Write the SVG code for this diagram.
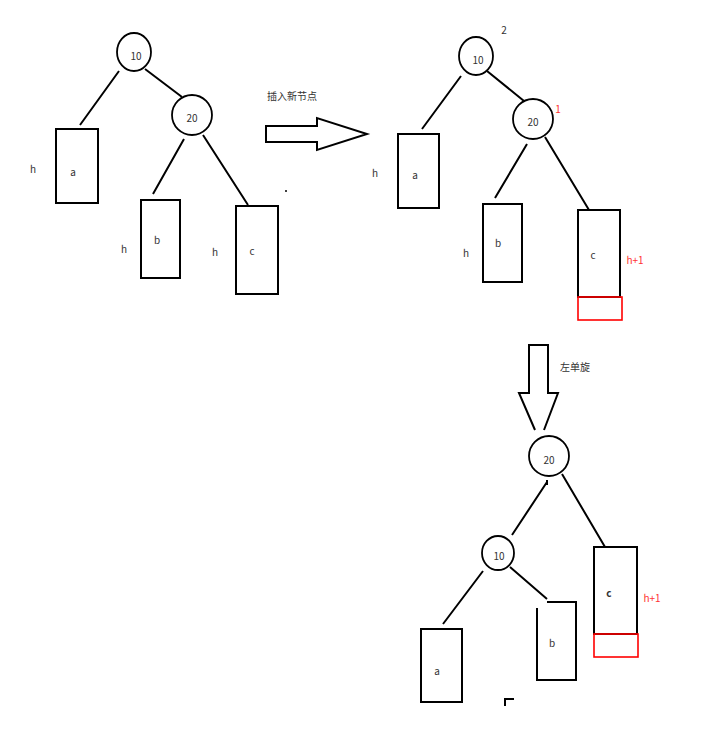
<svg xmlns="http://www.w3.org/2000/svg" width="721" height="735" viewBox="0 0 721 735">
<style>
.s{fill:none;stroke:#000;stroke-width:2}
.r{fill:none;stroke:#ff0000;stroke-width:1.6}
.n{fill:#fff;stroke:#000;stroke-width:1.8}
text{font-family:"Noto Sans CJK SC","Liberation Sans",sans-serif;font-size:10px;fill:#333;text-anchor:middle;dominant-baseline:central}
.red{fill:#ff3333}
</style>
<rect width="721" height="735" fill="#fff"/>
<g id="connectors">
<path class="s" d="M119,71 L80,125 M145,69 L182,97 M184,139 L153,194 M203,135 L248,205"/>
<path class="s" d="M461,76 L422,129 M487,71 L524,101 M527,144 L495,198 M545,137 L589,210"/>
<path class="s" d="M547,482 L512,535 M562,474 L605,547 M483,571 L443,624 M510,567 L547,599"/>
<path class="s" d="M547,480 V485" stroke-width="1"/>
</g>
<g id="arrow-insert">
<polygon class="s" points="266,126 317,126 317,118 367,134 317,150 317,142 266,142"/>
<text x="292" y="95">插入新节点</text>
</g>
<g id="arrow-rotate">
<polyline class="s" points="535,430 519,393 529,393 529,345 548,345 548,393 558,393 544,430"/>
<text x="575" y="366">左单旋</text>
</g>
<g id="t1-n10"><ellipse class="n" cx="134" cy="52" rx="17" ry="19"/><text x="136" y="55">10</text></g>
<g id="t1-n20"><circle class="n" cx="192" cy="115" r="20"/><text x="192" y="117">20</text></g>
<g id="t1-a"><rect class="s" x="56" y="129" width="42" height="74"/><text x="73" y="171">a</text><text x="33" y="168">h</text></g>
<g id="t1-b"><rect class="s" x="141" y="200" width="39" height="78"/><text x="157" y="239">b</text><text x="124" y="248">h</text></g>
<g id="t1-c"><rect class="s" x="236" y="206" width="42" height="88"/><text x="252" y="250">c</text><text x="215" y="251">h</text></g>
<circle cx="286" cy="191" r="1" fill="#000"/>
<g id="t2-n10"><ellipse class="n" cx="476" cy="56" rx="17" ry="19"/><text x="478" y="59">10</text><text x="504" y="29">2</text></g>
<g id="t2-n20"><circle class="n" cx="533" cy="119" r="20"/><text x="533" y="121">20</text><text class="red" x="558" y="108">1</text></g>
<g id="t2-a"><rect class="s" x="398" y="134" width="41" height="74"/><text x="415" y="174">a</text><text x="375" y="172">h</text></g>
<g id="t2-b"><rect class="s" x="483" y="204" width="39" height="78"/><text x="498" y="242">b</text><text x="466" y="252">h</text></g>
<g id="t2-c"><rect class="s" x="578" y="210" width="42" height="87"/><rect class="r" x="578" y="297" width="44" height="23"/><text x="593" y="254">c</text><text class="red" x="635" y="259">h+1</text></g>
<g id="t3-n20"><circle class="n" cx="549" cy="456" r="20"/><text x="549" y="459">20</text></g>
<g id="t3-n10"><ellipse class="n" cx="498" cy="553" rx="16" ry="17"/><text x="499" y="555">10</text></g>
<g id="t3-a"><rect class="s" x="421" y="629" width="41" height="73"/><text x="437" y="670">a</text></g>
<g id="t3-b"><path class="s" d="M547,602 H576 V680 H537 V608"/><text x="552" y="642">b</text></g>
<g id="t3-c"><rect class="s" x="594" y="547" width="43" height="87" stroke-width="2.4"/><rect class="r" x="594" y="634" width="44" height="23"/><text x="609" y="592" font-weight="bold" fill="#000">c</text><text class="red" x="652" y="597">h+1</text></g>
<path class="s" d="M505,706 V699 H514"/>
</svg>
